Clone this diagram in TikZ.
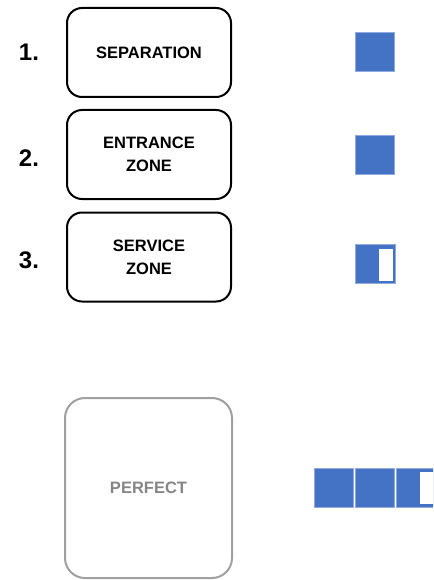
\documentclass[tikz,border=0pt]{standalone}
\usepackage{fontspec}
\setmainfont{Liberation Sans}
\definecolor{barblue}{HTML}{4472C4}
\definecolor{baredge}{HTML}{8FAADC}
\definecolor{softgray}{HTML}{A0A0A0}
\definecolor{textgray}{HTML}{858585}
\tikzset{
  zone/.style={draw, line width=2pt, rounded corners=15pt, minimum width=164pt, minimum height=89pt,
    align=center, font=\fontsize{16.5}{23}\selectfont\bfseries},
  num/.style={font=\fontsize{24}{24}\selectfont\bfseries},
  bar/.style={fill=barblue, draw=baredge, line width=0.6pt, minimum width=39pt, minimum height=39pt, inner sep=0pt},
  gap/.style={fill=white, draw=barblue, line width=0.8pt, minimum width=15pt, minimum height=33pt, inner sep=0pt}
}
\begin{document}
\begin{tikzpicture}[x=1pt,y=-1pt]
      \useasboundingbox (0,0) rectangle (433,580);
      \clip (0,0) rectangle (433,580);
      \node[zone] (sep) at (149,52.5) {SEPARATION};
      \node[zone] (ent) at (149,154.5) {ENTRANCE\\ZONE};
      \node[zone] (ser) at (149,257) {SERVICE\\ZONE};
      \node[num] (n1) at (29,52) {1.};
      \node[num] (n2) at (29,158) {2.};
      \node[num] (n3) at (29,260) {3.};
      \node[bar] (sepbar) at (374.5,52) {};
      \node[bar] (entbar) at (374.5,154.5) {};
      \node[bar, minimum width=40pt] (serbar) at (375,264) {};
      \node[gap] (sergap) at (385.5,264.5) {};
      % perfect score
      \node[zone, draw=softgray, text=textgray, rounded corners=20pt, minimum width=167pt, minimum height=180pt]
        (perf) at (148.5,488) {PERFECT};
      \node[bar] (pbar1) at (334,487.5) {};
      \node[bar] (pbar2) at (375,487.5) {};
      \node[bar, minimum width=40pt] (pbar3) at (416,487.5) {};
      \node[gap, minimum width=20pt] (pgap) at (429,487.5) {};
\end{tikzpicture}
\end{document}
